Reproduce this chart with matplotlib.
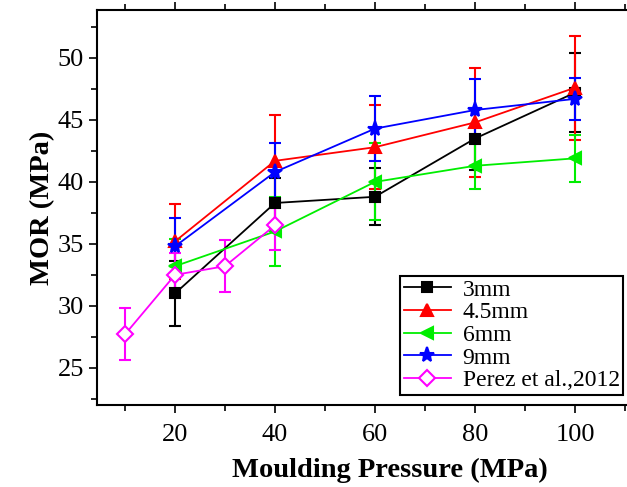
import matplotlib
matplotlib.use("Agg")
import matplotlib.pyplot as plt
from matplotlib.ticker import MultipleLocator
from matplotlib.lines import Line2D

plt.rcParams['font.family'] = ['Liberation Serif', 'DejaVu Serif']

pressure = [20, 40, 60, 80, 100]
mor_3 = [31.0, 38.3, 38.8, 43.5, 47.2]
err_3 = [2.6, 2.0, 2.3, 2.5, 3.2]
mor_45 = [35.2, 41.7, 42.8, 44.8, 47.6]
err_45 = [3.0, 3.7, 3.4, 4.4, 4.2]
mor_6 = [33.2, 36.0, 40.0, 41.3, 41.9]
err_6 = [2.2, 2.8, 3.1, 1.9, 1.9]
mor_9 = [34.8, 40.8, 44.3, 45.8, 46.7]
err_9 = [2.3, 2.3, 2.6, 2.5, 1.7]
perez_p = [10, 20, 30, 40]
perez_mor = [27.7, 32.5, 33.2, 36.5]
perez_err = [2.1, 1.8, 2.1, 2.0]

W, H = 627, 487
fig = plt.figure(figsize=(W / 100, H / 100), dpi=100)
left, right, top, bottom = 97, 660, 10, 405
ax = fig.add_axes([left / W, 1 - bottom / H, (right - left) / W, (bottom - top) / H])

series = [
    (pressure, mor_3, err_3, 'black', 's', 'black', 7, '3mm'),
    (pressure, mor_45, err_45, 'red', '^', 'red', 9, '4.5mm'),
    (pressure, mor_6, err_6, '#00ee00', '<', '#00ee00', 9, '6mm'),
    (pressure, mor_9, err_9, 'blue', '*', 'blue', 11, '9mm'),
    (perez_p, perez_mor, perez_err, 'magenta', 'D', 'white', 8, 'Perez et al.,2012'),
]
handles = []
for x, y, e, c, m, fc, ms, lab in series:
    ax.errorbar(x, y, yerr=e, color=c, marker=m, markerfacecolor=fc, markeredgecolor=c,
                markersize=ms, markeredgewidth=1.5, lw=1.3, elinewidth=1.5, capsize=4,
                capthick=1.5)
    handles.append(Line2D([], [], color=c, marker=m, markerfacecolor=fc, markeredgecolor=c,
                          markersize=ms, markeredgewidth=1.5, lw=1.3, label=lab))

ax.set_xlim(4.4, 4.4 + (right - left) / 5.0)
ax.set_ylim(22.0, 53.87)
ax.set_xticks([20, 40, 60, 80, 100])
ax.set_yticks([25, 30, 35, 40, 45, 50])
ax.xaxis.set_minor_locator(MultipleLocator(10))
ax.yaxis.set_minor_locator(MultipleLocator(2.5))
ax.tick_params(which='both', direction='out', top=True, labelsize=19, width=1.2)
ax.tick_params(which='major', length=6)
ax.tick_params(which='minor', length=4)
ax.tick_params(axis='x', pad=8)
for s in ax.spines.values():
    s.set_linewidth(1.5)

ax.set_xlabel('Moulding Pressure (MPa)', fontsize=20.5, fontweight='bold')
ax.xaxis.set_label_coords((390 - left) / (right - left), (bottom - 458) / (bottom - top))
ax.set_ylabel('MOR (MPa)', fontsize=20.5, fontweight='bold', labelpad=2)

leg = ax.legend(handles=handles, loc='lower left', bbox_to_anchor=(400 / W, 1 - 395 / H),
                bbox_transform=fig.transFigure,
                fontsize=17, frameon=True, fancybox=False, edgecolor='black', framealpha=1,
                borderpad=0.15, labelspacing=0.05, handlelength=2.0, handletextpad=0.5,
                borderaxespad=0)
leg.get_frame().set_linewidth(1.5)

fig.savefig('out.png', dpi=100)
